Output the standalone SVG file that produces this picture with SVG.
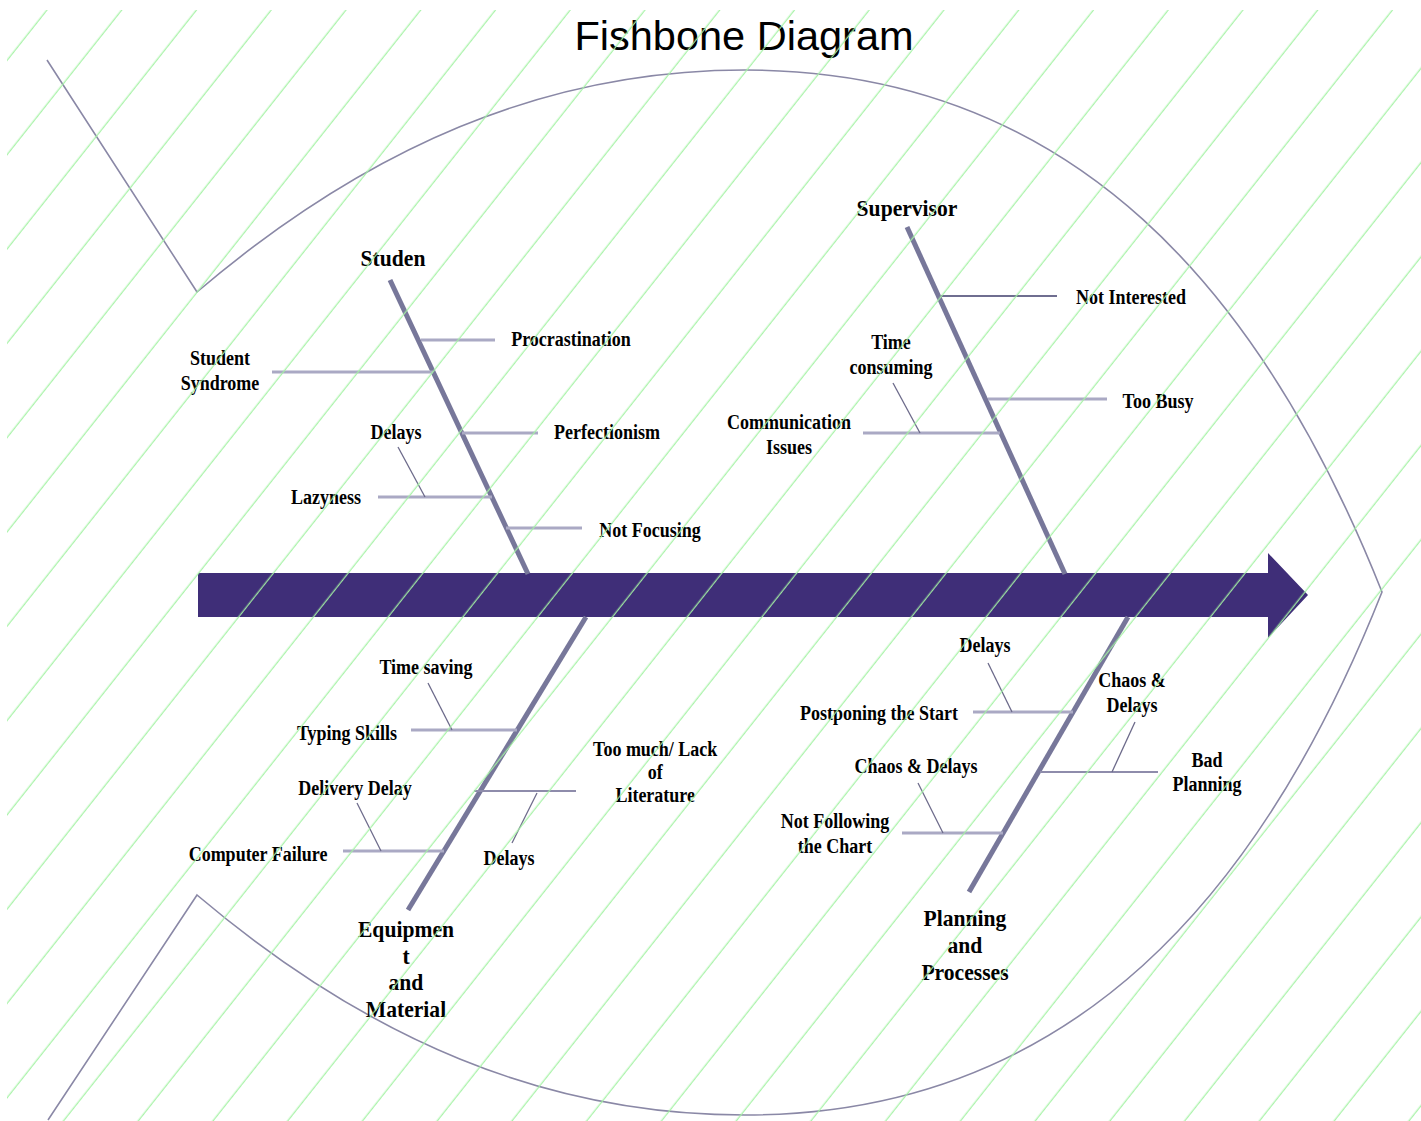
<svg xmlns="http://www.w3.org/2000/svg" width="1421" height="1121" viewBox="0 0 1421 1121">
<style>
.lbl{font-family:"Liberation Serif","Times New Roman",serif;font-weight:bold;font-size:20px;fill:#000;text-anchor:middle}
.cat{font-family:"Liberation Serif","Times New Roman",serif;font-weight:bold;font-size:24px;fill:#000;text-anchor:middle}
.title{font-family:"Liberation Sans",Arial,sans-serif;font-size:41.5px;fill:#000;text-anchor:middle}
.outline{fill:none;stroke:#8a88a6;stroke-width:1.6}
.bone{stroke:#77779a;stroke-width:5}
.sub{stroke:#aaa9c4;stroke-width:3}
.med{stroke:#8e8cab;stroke-width:2}
.dark{stroke:#6f6e90;stroke-width:2}
.diag{stroke:#6c6a8a;stroke-width:1.3}
</style>
<defs>
<pattern id="hatch" patternUnits="userSpaceOnUse" width="58.58" height="20" patternTransform="rotate(38.4)">
<rect x="42.4" y="0" width="1.2" height="20" fill="#a4f2a4"/>
</pattern>
<clipPath id="hclip"><rect x="7" y="10" width="1414" height="1111"/></clipPath>
</defs>
<rect width="1421" height="1121" fill="#fff"/>
<g id="title"><text class="title" x="744" y="50">Fishbone Diagram</text></g>
<g id="fish-outline">
<path class="outline" d="M47,60 L197,292 C367,147.5 545,70 745,70 C1075,70 1263.6,294.4 1382,592 C1263.6,890.6 1075,1115 745,1115 C545,1115 367,1039 197,895 L48,1120"/>
</g>
<g id="spine"><path d="M198,573 H1268 V553 L1308,595 L1268,638 V617 H198 Z" fill="#3f2e78"/></g>
<g id="connectors">
<line class="bone" x1="390" y1="280" x2="528" y2="574"/>
<line class="bone" x1="907" y1="227" x2="1065" y2="574"/>
<line class="bone" x1="586" y1="617" x2="408" y2="910"/>
<line class="bone" x1="1128" y1="617" x2="969" y2="892"/>
<line class="sub" x1="421" y1="340" x2="495" y2="340"/>
<line class="sub" x1="272" y1="372" x2="433" y2="372"/>
<line class="sub" x1="462" y1="433" x2="538" y2="433"/>
<line class="sub" x1="378" y1="497" x2="492" y2="497"/>
<line class="sub" x1="506" y1="528" x2="582" y2="528"/>
<line class="dark" x1="941" y1="296" x2="1057" y2="296"/>
<line class="sub" x1="988" y1="399" x2="1107" y2="399"/>
<line class="sub" x1="863" y1="433" x2="1000" y2="433"/>
<line class="sub" x1="411" y1="730" x2="517" y2="730"/>
<line class="sub" x1="343" y1="851" x2="444" y2="851"/>
<line class="med" x1="474" y1="791" x2="576" y2="791"/>
<line class="sub" x1="973" y1="712" x2="1073" y2="712"/>
<line class="med" x1="1040" y1="772" x2="1158" y2="772"/>
<line class="sub" x1="902" y1="833" x2="1003" y2="833"/>
<line class="diag" x1="398" y1="447" x2="425" y2="497"/>
<line class="diag" x1="893" y1="383" x2="920" y2="433"/>
<line class="diag" x1="428" y1="683" x2="452" y2="730"/>
<line class="diag" x1="357" y1="803" x2="381" y2="851"/>
<line class="diag" x1="537" y1="793" x2="512" y2="843"/>
<line class="diag" x1="988" y1="663" x2="1012" y2="712"/>
<line class="diag" x1="1135" y1="722" x2="1112" y2="772"/>
<line class="diag" x1="918" y1="783" x2="943" y2="833"/>
</g>
<g id="node-student" transform="scale(0.9 1)">
<text class="cat" x="436.7" y="266">Studen</text>
<text class="lbl" x="634.4" y="346">Procrastination</text>
<text class="lbl" x="244.4" y="365">Student</text>
<text class="lbl" x="244.4" y="390">Syndrome</text>
<text class="lbl" x="674.4" y="439">Perfectionism</text>
<text class="lbl" x="440" y="439">Delays</text>
<text class="lbl" x="362.2" y="504">Lazyness</text>
<text class="lbl" x="722.2" y="537">Not Focusing</text>
</g>
<g id="node-supervisor" transform="scale(0.9 1)">
<text class="cat" x="1007.8" y="216">Supervisor</text>
<text class="lbl" x="1256.7" y="304">Not Interested</text>
<text class="lbl" x="990" y="349">Time</text>
<text class="lbl" x="990" y="374">consuming</text>
<text class="lbl" x="1286.7" y="408">Too Busy</text>
<text class="lbl" x="876.7" y="429">Communication</text>
<text class="lbl" x="876.7" y="454">Issues</text>
</g>
<g id="node-equipment" transform="scale(0.9 1)">
<text class="lbl" x="473.3" y="674">Time saving</text>
<text class="lbl" x="385.6" y="740">Typing Skills</text>
<text class="lbl" x="394.4" y="795">Delivery Delay</text>
<text class="lbl" x="286.7" y="861">Computer Failure</text>
<text class="lbl" x="728" y="756">Too much/ Lack</text>
<text class="lbl" x="728" y="779">of</text>
<text class="lbl" x="728" y="802">Literature</text>
<text class="lbl" x="565.6" y="865">Delays</text>
<text class="cat" x="451.1" y="937">Equipmen</text>
<text class="cat" x="451.1" y="964">t</text>
<text class="cat" x="451.1" y="990">and</text>
<text class="cat" x="451.1" y="1017">Material</text>
</g>
<g id="node-planning" transform="scale(0.9 1)">
<text class="lbl" x="1094.4" y="652">Delays</text>
<text class="lbl" x="976.7" y="720">Postponing the Start</text>
<text class="lbl" x="1257.8" y="687">Chaos &amp;</text>
<text class="lbl" x="1257.8" y="712">Delays</text>
<text class="lbl" x="1017.8" y="773">Chaos &amp; Delays</text>
<text class="lbl" x="1341.1" y="767">Bad</text>
<text class="lbl" x="1341.1" y="791">Planning</text>
<text class="lbl" x="927.8" y="828">Not Following</text>
<text class="lbl" x="927.8" y="853">the Chart</text>
<text class="cat" x="1072.2" y="926">Planning</text>
<text class="cat" x="1072.2" y="953">and</text>
<text class="cat" x="1072.2" y="980">Processes</text>
</g>
<g id="hatch-overlay" clip-path="url(#hclip)">
<rect x="7" y="10" width="1414" height="1111" fill="url(#hatch)"/>
</g>
</svg>
